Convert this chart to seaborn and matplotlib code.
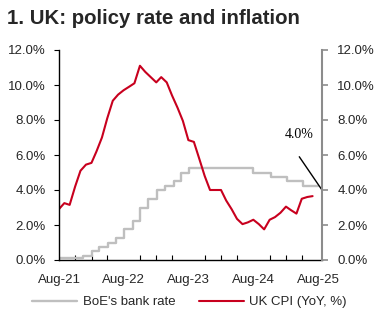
import numpy as np
import pandas as pd
import matplotlib
matplotlib.use("Agg")
import matplotlib.pyplot as plt
import matplotlib.dates as mdates
from matplotlib.ticker import FuncFormatter, MultipleLocator
import seaborn as sns

# ---------------- data ----------------
cpi_dates = pd.date_range("2021-07-31", periods=48, freq="ME")
cpi_values = [2.9, 3.25, 3.15, 4.2, 5.1, 5.45, 5.55, 6.2, 7.0, 8.1, 9.1, 9.45,
              9.7, 9.9, 10.1, 11.1, 10.75, 10.45, 10.15, 10.45, 10.15, 9.4, 8.7, 7.95,
              6.85, 6.75, 5.8, 4.8, 4.0, 4.0, 4.0, 3.4, 2.9, 2.35, 2.05, 2.15,
              2.3, 2.05, 1.75, 2.3, 2.45, 2.7, 3.05, 2.85, 2.65, 3.5, 3.6, 3.65]

rate_dates = pd.to_datetime([
    "2021-08-01", "2021-12-16", "2022-02-03", "2022-03-17", "2022-05-05",
    "2022-06-16", "2022-08-04", "2022-09-22", "2022-11-03", "2022-12-15",
    "2023-02-02", "2023-03-23", "2023-05-11", "2023-06-22", "2023-08-03",
    "2024-08-01", "2024-11-07", "2025-02-06", "2025-05-08", "2025-08-01"])
rate_values = [0.1, 0.25, 0.5, 0.75, 1.0, 1.25, 1.75, 2.25, 3.0, 3.5,
               4.0, 4.25, 4.5, 5.0, 5.25, 5.0, 4.75, 4.5, 4.25, 4.25]

series_labels = ["BoE's bank rate", "UK CPI (YoY, %)"]
title = "1. UK: policy rate and inflation"
annot_label = "4.0%"
annot_value = 4.0
y_ticks = [0, 2, 4, 6, 8, 10, 12]

cpi_df = pd.DataFrame({"date": cpi_dates, "value": cpi_values})
rate_df = pd.DataFrame({"date": rate_dates, "value": rate_values})

# ---------------- style ----------------
sns.set_style("white")
plt.rcParams["font.family"] = ["Liberation Sans", "DejaVu Sans"]

RED = "#C8001E"
GRAY = "#BFBFBF"
AXGRAY = "#8C8C8C"

fig = plt.figure(figsize=(3.79, 3.21), dpi=100)
ax = fig.add_axes([59 / 379, 61 / 321, 263 / 379, 210 / 321])

sns.lineplot(data=rate_df, x="date", y="value", ax=ax, color=GRAY,
             linewidth=1.7, drawstyle="steps-post", label=series_labels[0])
sns.lineplot(data=cpi_df, x="date", y="value", ax=ax, color=RED,
             linewidth=1.5, label=series_labels[1])

ax.set_xlim(pd.Timestamp("2021-08-01"), pd.Timestamp("2025-08-22"))
ax.set_ylim(0, 12)
ax.set_yticks(y_ticks)
fmt = FuncFormatter(lambda v, p: f"{v:.1f}%")
ax.yaxis.set_major_formatter(fmt)
ax.set_xlabel("")
ax.set_ylabel("")

ax.xaxis.set_major_locator(mdates.MonthLocator(bymonth=8))
ax.xaxis.set_minor_locator(mdates.MonthLocator(bymonth=[2, 5, 11]))
ax.xaxis.set_major_formatter(mdates.DateFormatter("%b-%y"))

for s in ["top", "right"]:
    ax.spines[s].set_visible(False)
for s in ["left", "bottom"]:
    ax.spines[s].set_color("black")
    ax.spines[s].set_linewidth(1.0)

ax.tick_params(axis="x", which="major", direction="inout", length=7.5, width=0.8,
               color="black", labelsize=9.5, pad=6)
ax.tick_params(axis="x", which="minor", direction="in", length=3.6, width=0.8,
               color="black", bottom=True)
ax.tick_params(axis="y", which="major", direction="out", length=3.6, width=0.8,
               color="black", labelsize=9.5, pad=6, left=True)

ax2 = ax.twinx()
ax2.set_ylim(0, 12)
ax2.set_yticks(y_ticks)
ax2.yaxis.set_major_formatter(fmt)
for s in ["top", "left", "bottom"]:
    ax2.spines[s].set_visible(False)
ax2.spines["right"].set_color(AXGRAY)
ax2.spines["right"].set_linewidth(1.5)
ax2.tick_params(axis="y", which="major", direction="out", length=4, width=1.2,
                color=AXGRAY, labelsize=9.5, pad=7, right=True)
ax2.grid(False)
ax.grid(False)

# annotation
ax.text(pd.Timestamp("2025-04-13"), 7.15, annot_label, ha="center", va="center",
        fontsize=10, family=["Liberation Serif", "DejaVu Serif"], color="black")
ax.annotate("", xy=(1.0, annot_value), xycoords=("axes fraction", "data"),
            xytext=(pd.Timestamp("2025-04-16"), 5.9), textcoords="data",
            arrowprops=dict(arrowstyle="-", color="black", lw=1.0,
                            shrinkA=0, shrinkB=0), annotation_clip=False)

# legend
handles, labels = ax.get_legend_handles_labels()
ax.get_legend().remove()
fig.legend(handles, labels, loc="center", bbox_to_anchor=(0.5, 1 - 302 / 321),
           ncol=2, frameon=False, fontsize=9.5, handlelength=3.4,
           handletextpad=0.4, columnspacing=1.8)

fig.text(7 / 379, 1 - 24 / 321, title, ha="left", va="baseline",
         fontsize=14.7, fontweight="bold")

fig.savefig("out.png", dpi=100)
